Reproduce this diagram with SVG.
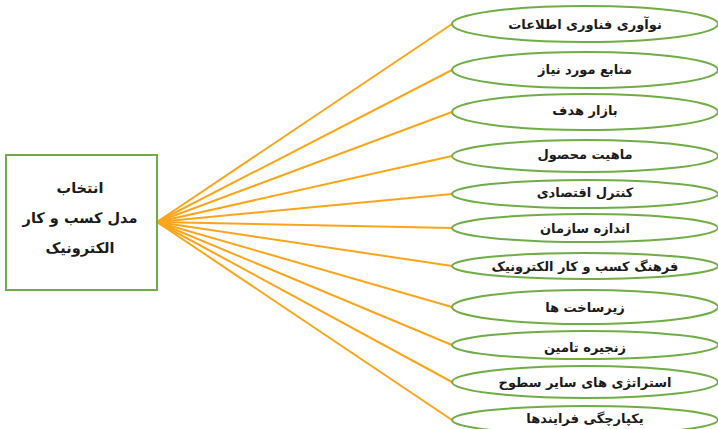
<svg xmlns="http://www.w3.org/2000/svg" width="718" height="429" viewBox="0 0 718 429">
<style>
.n{fill:#fff;stroke:#70AD47;stroke-width:2}
.c line{stroke:#FBA51A;stroke-width:2}
text{font-family:"DejaVu Sans",sans-serif;font-weight:bold;font-size:13px;fill:#1a1a1a;text-anchor:middle;direction:rtl;dominant-baseline:central}
.b{font-size:14.5px}
</style>
<rect width="718" height="429" fill="#fff"/>
<g class="c" id="connectors">
<line x1="157" y1="222" x2="452" y2="24"/>
<line x1="157" y1="222" x2="452" y2="70"/>
<line x1="157" y1="222" x2="452" y2="112"/>
<line x1="157" y1="222" x2="452" y2="156"/>
<line x1="157" y1="222" x2="452" y2="194"/>
<line x1="157" y1="222" x2="452" y2="228"/>
<line x1="157" y1="222" x2="452" y2="266"/>
<line x1="157" y1="222" x2="452" y2="307"/>
<line x1="157" y1="222" x2="452" y2="345"/>
<line x1="157" y1="222" x2="452" y2="382"/>
<line x1="157" y1="222" x2="452" y2="420"/>
</g>
<g id="main">
<rect class="n" x="6" y="155" width="151" height="135"/>
<text class="b" x="80" y="188">انتخاب</text>
<text class="b" x="80" y="218">مدل کسب و کار</text>
<text class="b" x="80" y="248">الکترونیک</text>
</g>
<g id="n1"><ellipse class="n" cx="585" cy="24" rx="133" ry="18"/><text x="585" y="24">نوآوری فناوری اطلاعات</text></g>
<g id="n2"><ellipse class="n" cx="585" cy="70" rx="133" ry="18"/><text x="585" y="69">منابع مورد نیاز</text></g>
<g id="n3"><ellipse class="n" cx="585" cy="112" rx="133" ry="18"/><text x="585" y="110">بازار هدف</text></g>
<g id="n4"><ellipse class="n" cx="585" cy="156" rx="133" ry="16"/><text x="585" y="154">ماهیت محصول</text></g>
<g id="n5"><ellipse class="n" cx="585" cy="194" rx="133" ry="14"/><text x="585" y="192">کنترل اقتصادی</text></g>
<g id="n6"><ellipse class="n" cx="585" cy="228" rx="133" ry="14"/><text x="585" y="228">اندازه سازمان</text></g>
<g id="n7"><ellipse class="n" cx="585" cy="266" rx="133" ry="13"/><text x="585" y="266">فرهنگ کسب و کار الکترونیک</text></g>
<g id="n8"><ellipse class="n" cx="585" cy="307" rx="133" ry="17"/><text x="585" y="307">زیرساخت ها</text></g>
<g id="n9"><ellipse class="n" cx="585" cy="345" rx="133" ry="14"/><text x="585" y="347">زنجیره تامین</text></g>
<g id="n10"><ellipse class="n" cx="585" cy="382" rx="133" ry="16"/><text x="585" y="382">استراتژی های سایر سطوح</text></g>
<g id="n11"><ellipse class="n" cx="585" cy="420" rx="133" ry="14"/><text x="585" y="418">یکپارچگی فرایندها</text></g>
</svg>
